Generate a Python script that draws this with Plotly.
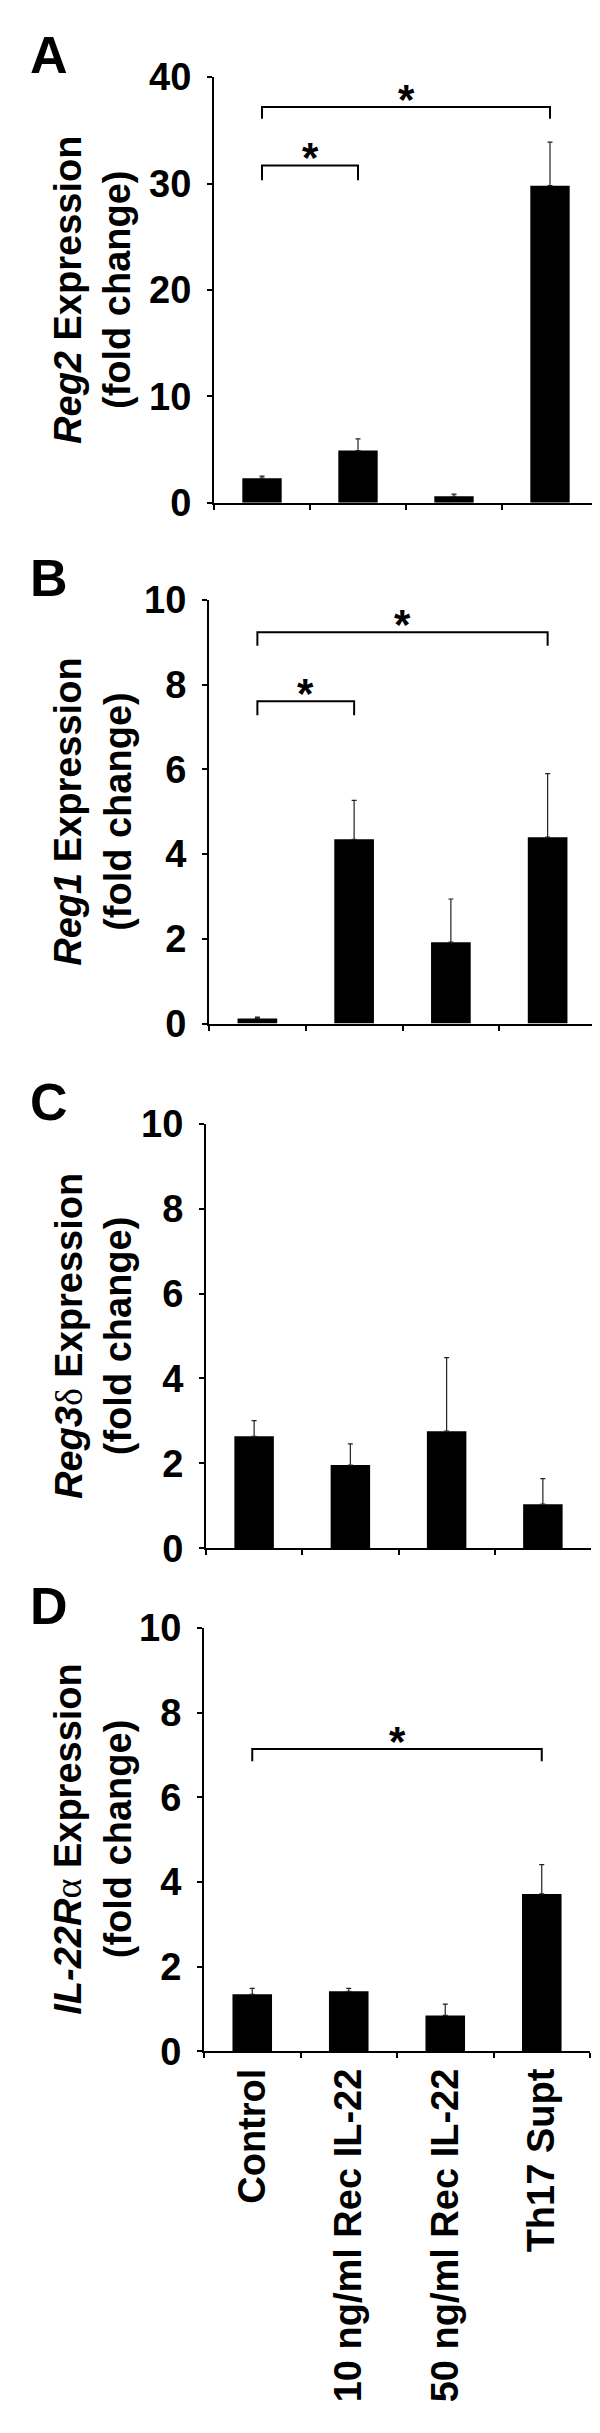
import plotly.graph_objects as go

# 数据
categories = ["Control", "10 ng/ml Rec IL-22", "50 ng/ml Rec IL-22", "Th17 Supt"]

reg2_mean = [2.3, 4.9, 0.6, 29.8]
reg2_err = [0.2, 1.1, 0.2, 4.1]

reg1_mean = [0.12, 4.35, 1.92, 4.4]
reg1_err = [0.03, 0.92, 1.02, 1.5]

reg3d_mean = [2.64, 1.96, 2.76, 1.04]
reg3d_err = [0.37, 0.5, 1.73, 0.6]

il22ra_mean = [1.35, 1.42, 0.85, 3.72]
il22ra_err = [0.14, 0.07, 0.27, 0.69]

# 显著性括号: (起始组, 结束组, 横线高度, 竖脚底部)
reg2_brackets = [(0, 3, 37.2, 36.1), (0, 1, 31.7, 30.3)]
reg1_brackets = [(0, 3, 9.24, 8.92), (0, 1, 7.61, 7.28)]
reg3d_brackets = []
il22ra_brackets = [(0, 3, 7.14, 6.85)]

W, H = 600, 2433
FONT = "Liberation Sans, Arial, sans-serif"

panels = [
    dict(letter="A", mean=reg2_mean, err=reg2_err, brackets=reg2_brackets, ymax=40, dtick=10,
         title="<i>Reg2</i> Expression<br>(fold change)",
         box=(206, 590, 49, 482)),
    dict(letter="B", mean=reg1_mean, err=reg1_err, brackets=reg1_brackets, ymax=10, dtick=2,
         title="<i>Reg1</i> Expression<br>(fold change)",
         box=(201, 588, 581, 1012)),
    dict(letter="C", mean=reg3d_mean, err=reg3d_err, brackets=reg3d_brackets, ymax=10, dtick=2,
         title="<i>Reg3</i><span style='font-family:Liberation Serif;font-weight:normal'>δ</span> Expression<br>(fold change)",
         box=(198, 583, 1114, 1546)),
    dict(letter="D", mean=il22ra_mean, err=il22ra_err, brackets=il22ra_brackets, ymax=10, dtick=2,
         title="<i>IL-22R</i><span style='font-family:Liberation Serif;font-weight:normal'>α</span> Expression<br>(fold change)",
         box=(196, 582, 1627, 2058)),
]

fig = go.Figure()
annotations = []
shapes = []

for i, p in enumerate(panels):
    n = "" if i == 0 else str(i + 1)
    xa, ya = "x" + n, "y" + n
    x0, x1, y0, y1 = p["box"]

    fig.add_trace(go.Bar(
        x=categories, y=p["mean"], xaxis=xa, yaxis=ya,
        marker=dict(color="black", line=dict(width=0)),
        width=0.41,
        error_y=dict(type="data", array=p["err"], arrayminus=[0] * 4, symmetric=False,
                     thickness=1.2, width=2.5, color="#222"),
        showlegend=False,
    ))

    last = i == len(panels) - 1
    fig.layout["xaxis" + n] = dict(
        domain=[x0 / W, x1 / W], anchor=ya, type="category", range=[-0.5, 3.5],
        showline=True, linecolor="black", linewidth=2, mirror=False,
        ticks="outside", tickson="boundaries", ticklen=5, tickwidth=2, tickcolor="black",
        showgrid=False, zeroline=False,
        showticklabels=last, tickangle=-90,
        tickfont=dict(family=FONT, size=38, color="black", weight="bold"),
    )
    fig.layout["yaxis" + n] = dict(
        domain=[1 - y1 / H, 1 - y0 / H], anchor=xa, range=[0, p["ymax"]], dtick=p["dtick"],
        showline=True, linecolor="black", linewidth=2,
        ticks="outside", ticklen=5, tickwidth=2, tickcolor="black",
        showgrid=False, zeroline=False, ticklabelstandoff=8,
        tickfont=dict(family=FONT, size=38, color="black", weight="bold"),
    )

    # 纵轴标题
    annotations.append(dict(
        text=p["title"], textangle=-90, xref="paper", yref="paper",
        x=85 / W, y=1 - (y0 + y1) / 2 / H, xanchor="center", yanchor="middle",
        showarrow=False, font=dict(family=FONT, size=38, color="black", weight="bold"),
    ))
    # 面板字母, 底部略高于纵轴顶端
    annotations.append(dict(
        text=p["letter"], xref="paper", yref="paper",
        x=20 / W, y=1 - (y0 + 9) / H, xanchor="left", yanchor="bottom",
        showarrow=False, font=dict(family=FONT, size=52, color="black", weight="bold"),
    ))

    # 显著性括号与星号
    for a, b, top, leg in p["brackets"]:
        shapes.append(dict(
            type="path", xref=xa, yref=ya,
            path=f"M {a},{leg} L {a},{top} L {b},{top} L {b},{leg}",
            line=dict(color="black", width=2),
        ))
        annotations.append(dict(
            text="*", xref=xa, yref=ya, x=(a + b) / 2, y=top,
            xanchor="center", yanchor="bottom", yshift=-18, showarrow=False,
            font=dict(family=FONT, size=42, color="black", weight="bold"),
        ))

fig.update_layout(
    width=W, height=H,
    margin=dict(l=0, r=0, t=0, b=0),
    paper_bgcolor="white", plot_bgcolor="white",
    annotations=annotations, shapes=shapes,
    bargap=0.59,
)

fig.write_html("out.html")
